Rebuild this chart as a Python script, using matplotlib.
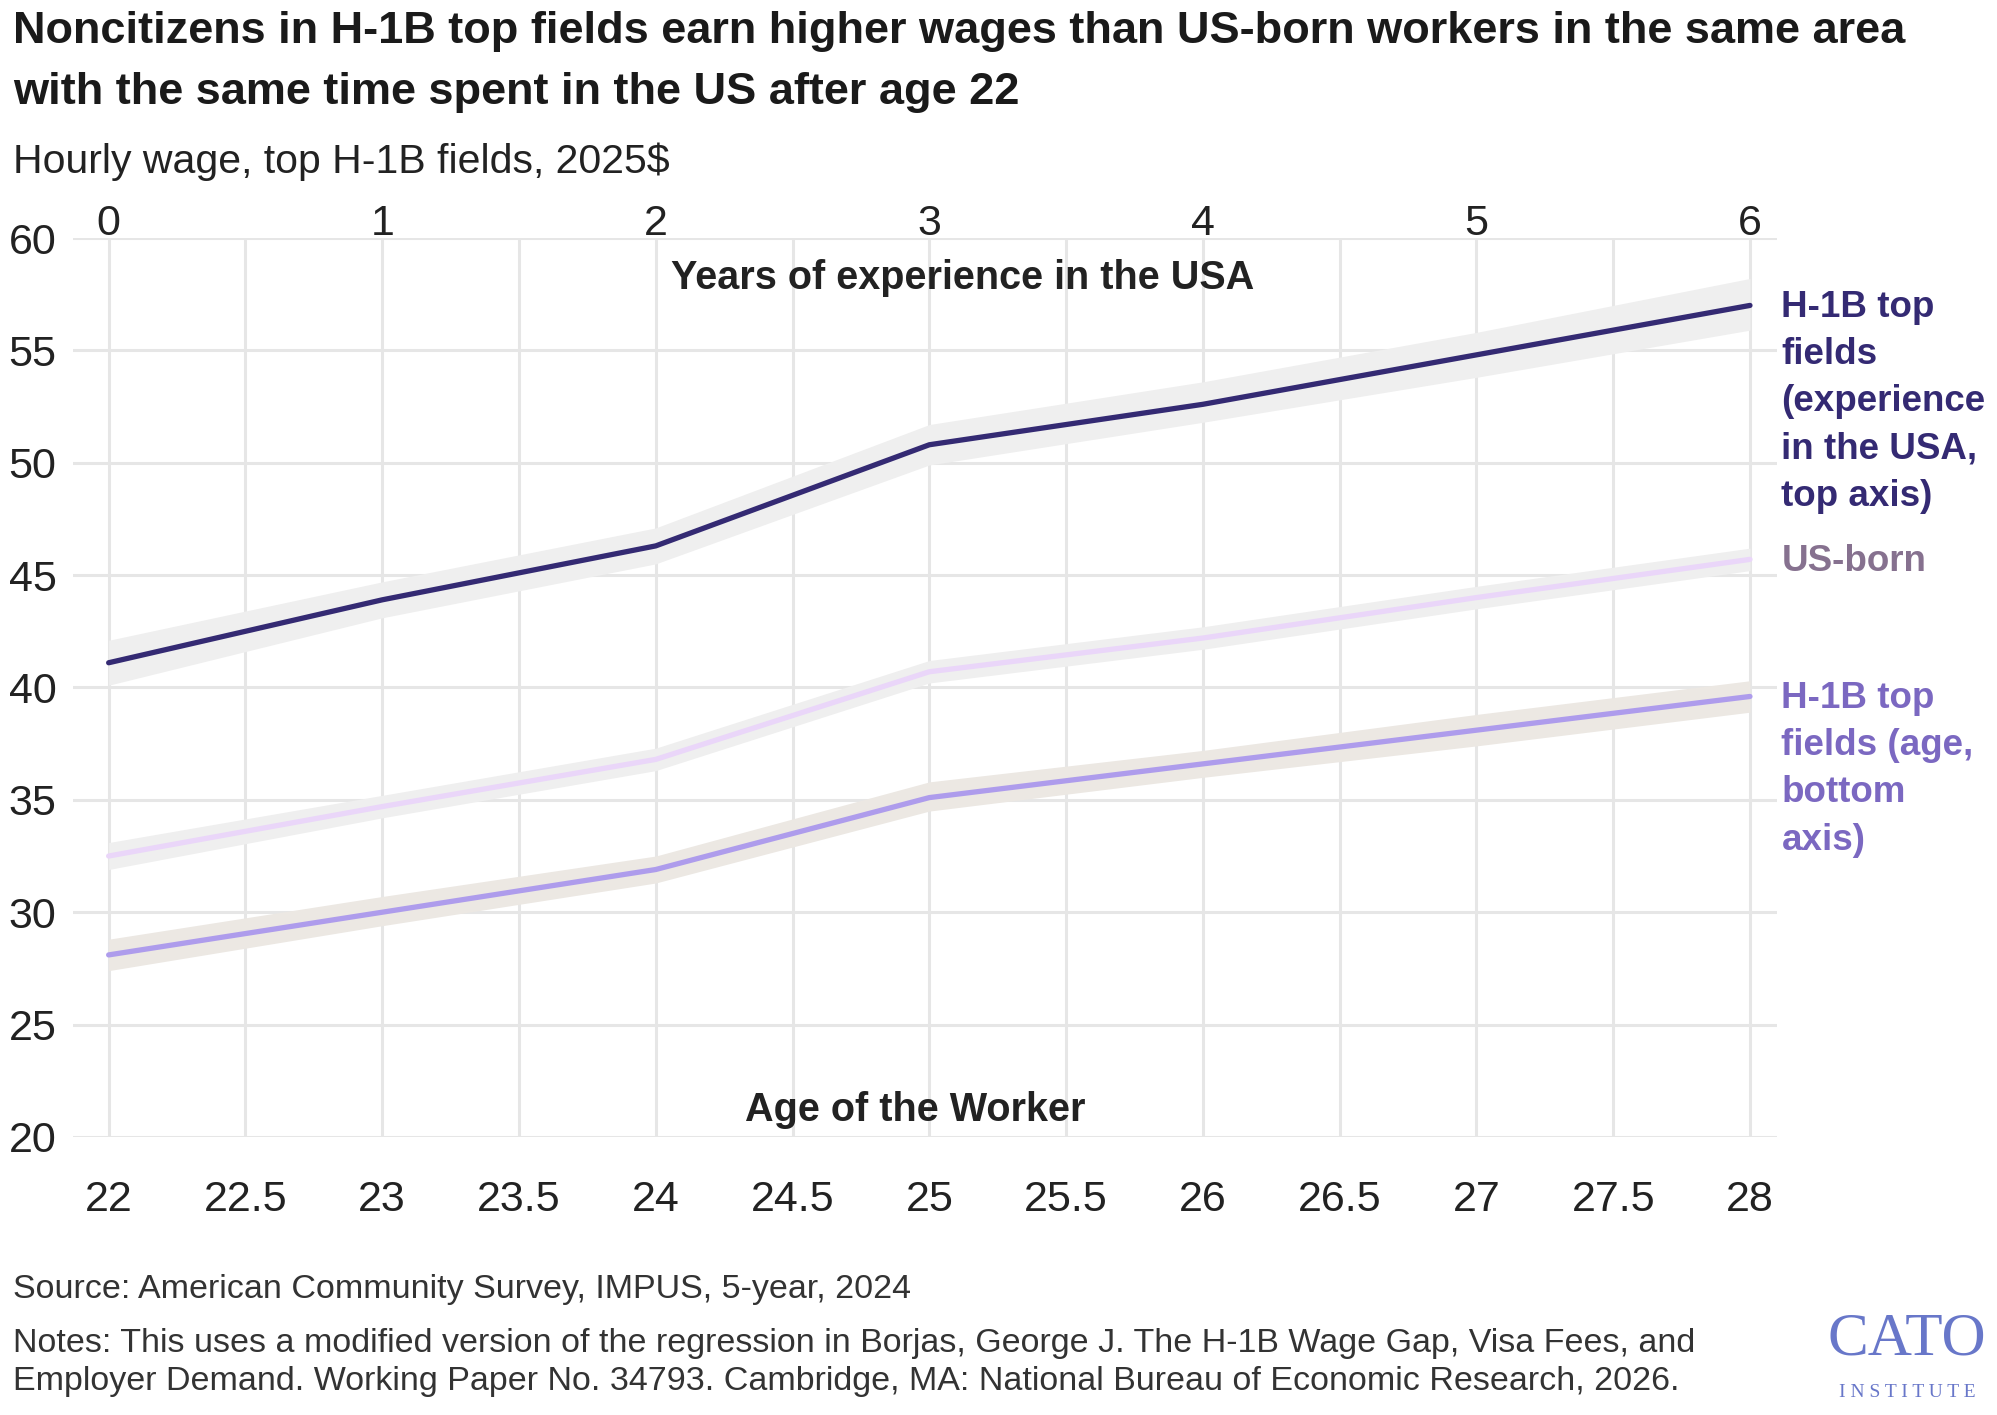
import numpy as np
import matplotlib
matplotlib.use("Agg")
import matplotlib.pyplot as plt

plt.rcParams['font.family'] = ['Liberation Sans', 'DejaVu Sans']

# Daten
age = [22, 23, 24, 25, 26, 27, 28]
age_ticks = [22, 22.5, 23, 23.5, 24, 24.5, 25, 25.5, 26, 26.5, 27, 27.5, 28]
exp_ticks = [0, 1, 2, 3, 4, 5, 6]
y_ticks = [20, 25, 30, 35, 40, 45, 50, 55, 60]

h1b_exp = [41.1, 43.9, 46.3, 50.8, 52.6, 54.8, 57.0]
h1b_exp_lo = [40.1, 43.1, 45.5, 49.9, 51.8, 53.8, 55.9]
h1b_exp_hi = [42.1, 44.7, 47.1, 51.7, 53.6, 55.8, 58.2]

us_born = [32.5, 34.7, 36.8, 40.7, 42.2, 44.0, 45.7]
us_born_lo = [31.9, 34.2, 36.3, 40.2, 41.7, 43.5, 45.2]
us_born_hi = [33.1, 35.2, 37.3, 41.2, 42.7, 44.5, 46.2]

h1b_age = [28.1, 30.0, 31.9, 35.1, 36.6, 38.1, 39.6]
h1b_age_lo = [27.4, 29.4, 31.3, 34.5, 36.0, 37.4, 38.9]
h1b_age_hi = [28.8, 30.7, 32.5, 35.8, 37.2, 38.8, 40.3]

labels = ["H-1B top\nfields\n(experience\nin the USA,\ntop axis)",
          "US-born",
          "H-1B top\nfields (age,\nbottom\naxis)"]

fig = plt.figure(figsize=(19.97, 14.15), dpi=100)
ax = fig.add_axes([0.0366, 0.1965, 0.8534, 0.6353])

# Konfidenzbänder
ax.fill_between(age, h1b_exp_lo, h1b_exp_hi, color='#efefef', lw=0, zorder=2)
ax.fill_between(age, us_born_lo, us_born_hi, color='#efefef', lw=0, zorder=2)
ax.fill_between(age, h1b_age_lo, h1b_age_hi, color='#ece8e3', lw=0, zorder=2)

# Linien
ax.plot(age, h1b_exp, color='#342a73', lw=3.8, solid_capstyle='round', zorder=3)
ax.plot(age, us_born, color='#ead6f9', lw=3.8, solid_capstyle='round', zorder=3)
ax.plot(age, h1b_age, color='#ae9cec', lw=3.8, solid_capstyle='round', zorder=3)

ax.set_xlim(21.87, 28.1)
ax.set_ylim(20, 60)
ax.set_xticks(age_ticks)
ax.set_xticklabels([f"{t:g}" for t in age_ticks])
ax.set_yticks(y_ticks)
ax.grid(True, color='#e6e6e6', lw=2.2, zorder=0)
ax.set_axisbelow(True)
for s in ax.spines.values():
    s.set_visible(False)
ax.tick_params(axis='x', length=0, labelsize=31, pad=31, colors='#222222')
ax.tick_params(axis='y', length=0, labelsize=31, pad=12, colors='#222222')

# obere Achse: Jahre in den USA
top = ax.secondary_xaxis('top', functions=(lambda x: x - 22, lambda x: x + 22))
top.set_xticks(exp_ticks)
top.tick_params(length=0, labelsize=31, pad=-4, colors='#222222')
for s in top.spines.values():
    s.set_visible(False)

ax.text(0.522, 0.955, "Years of experience in the USA", transform=ax.transAxes,
        ha='center', va='center', fontsize=28.5, fontweight='bold', color='#222222')
ax.text(0.494, 0.03, "Age of the Worker", transform=ax.transAxes,
        ha='center', va='center', fontsize=28.5, fontweight='bold', color='#222222')

# Beschriftungen am Linienende
ends = [h1b_exp[-1], us_born[-1], h1b_age[-1]]
cols = ['#342a73', '#86718f', '#7b68c1']
for lab, yv, c in zip(labels, ends, cols):
    ax.annotate(lab, xy=(1.0, yv), xycoords=('axes fraction', 'data'),
                xytext=(3, 11), textcoords='offset points', ha='left', va='top',
                fontsize=26.5, fontweight='bold', color=c, linespacing=1.45,
                annotation_clip=False)

# Titel und Untertitel
fig.text(0.0065, 0.992, "Noncitizens in H-1B top fields earn higher wages than US-born workers in the same area\nwith the same time spent in the US after age 22",
         ha='left', va='top', fontsize=32.5, fontweight='bold', color='#1a1a1a', linespacing=1.6)
fig.text(0.0065, 0.886, "Hourly wage, top H-1B fields, 2025$", ha='left', va='center',
         fontsize=29.5, color='#222222')

# Quelle und Anmerkungen
fig.text(0.0065, 0.089, "Source: American Community Survey, IMPUS, 5-year, 2024",
         ha='left', va='center', fontsize=24.5, color='#333333')
fig.text(0.0065, 0.0615, "Notes: This uses a modified version of the regression in Borjas, George J. The H-1B Wage Gap, Visa Fees, and\nEmployer Demand. Working Paper No. 34793. Cambridge, MA: National Bureau of Economic Research, 2026.",
         ha='left', va='top', fontsize=24.5, color='#333333', linespacing=1.3)

# Logo
fig.text(0.955, 0.053, "CATO", ha='center', va='center', fontsize=44,
         family='Liberation Serif', color='#6877c9')
fig.text(0.955, 0.016, "I N S T I T U T E", ha='center', va='center', fontsize=14,
         family='Liberation Serif', color='#6877c9')

plt.savefig("out.png", dpi=100)
plt.close()
